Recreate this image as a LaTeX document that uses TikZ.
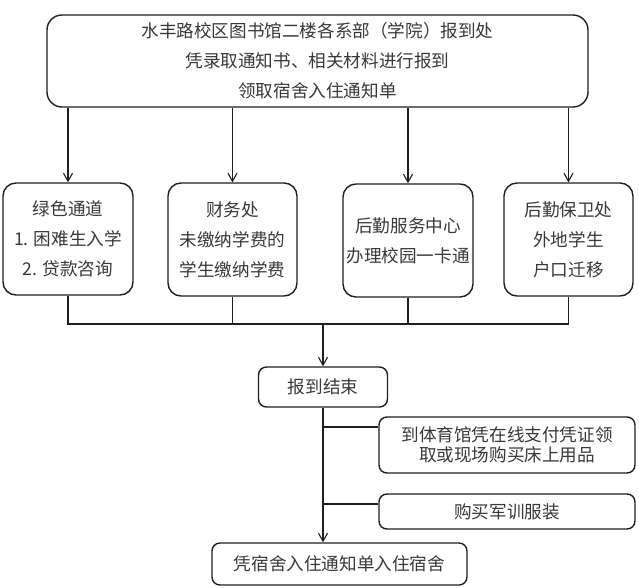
\documentclass[tikz,border=0pt]{standalone}
\usepackage{fontspec}
\newfontfamily\cjk{Noto Sans CJK SC}
\usetikzlibrary{arrows.meta}
\begin{document}
\begin{tikzpicture}[x=1pt,y=-1pt,
  every node/.style={font=\cjk\fontsize{17.6}{30}\selectfont, text=black!78},
  box/.style={draw=black!88, line width=1.4pt, rounded corners=13pt, align=center, inner sep=0pt},
  sbox/.style={draw=black!88, line width=1.4pt, rounded corners=8pt, align=center, inner sep=0pt},
  conn/.style={draw=black!88, line width=1.4pt},
  arr/.style={conn, -{Straight Barb[length=8pt,width=9pt,line width=1.1pt]}}]
\useasboundingbox (0,0) rectangle (639,587);
\node[box, rounded corners=15pt, minimum width=541pt, minimum height=92pt] (top) at (317.5,61)
  {水丰路校区图书馆二楼各系部（学院）报到处\\凭录取通知书、相关材料进行报到\\领取宿舍入住通知单};
\node[box, minimum width=130pt, minimum height=112pt] (b1) at (68,239)
  {绿色通道\\1. 困难生入学\\2. 贷款咨询};
\node[box, minimum width=129pt, minimum height=113pt] (b2) at (232.5,239.5)
  {财务处\\未缴纳学费的\\学生缴纳学费};
\node[box, minimum width=130pt, minimum height=113pt] (b3) at (408,240.5)
  {后勤服务中心\\办理校园一卡通};
\node[box, minimum width=129pt, minimum height=113pt] (b4) at (568.5,239.5)
  {后勤保卫处\\外地学生\\户口迁移};
\foreach \b in {b1,b2,b3,b4} {\draw[arr] (top.south -| \b.north) -- (\b.north);}
\coordinate (bus) at (323,324);
\draw[conn] (b1.south) -- (b1.south |- bus) -- (b4.south |- bus) -- (b4.south);
\draw[conn] (b2.south) -- (b2.south |- bus);
\draw[conn] (b3.south) -- (b3.south |- bus);
\node[sbox, minimum width=129pt, minimum height=40pt] (end) at (323,387) {报到结束};
\draw[arr] (bus) -- (end.north);
\node[sbox, minimum width=256pt, minimum height=56pt, font=\cjk\fontsize{17.6}{20.5}\selectfont] (bed) at (507,445)
  {到体育馆凭在线支付凭证领\\取或现场购买床上用品};
\node[sbox, minimum width=256pt, minimum height=35pt] (mil) at (507,511.5) {购买军训服装};
\node[sbox, minimum width=255pt, minimum height=42pt] (fin) at (339.5,564) {凭宿舍入住通知单入住宿舍};
\draw[arr] (end.south) -- (end.south |- fin.north);
\coordinate (j1) at (323,427);
\coordinate (j2) at (323,504);
\draw[conn] (j1) -- (j1 -| bed.west);
\draw[conn] (j2) -- (j2 -| mil.west);
\end{tikzpicture}
\end{document}
